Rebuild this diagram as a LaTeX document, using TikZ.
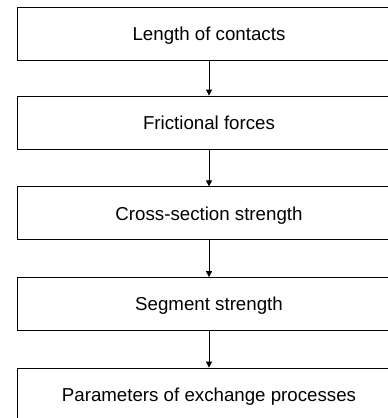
\documentclass[tikz,border=0pt]{standalone}
\usepackage{xcolor}
\usepackage{fontspec}
\setmainfont{Liberation Sans}
\usetikzlibrary{arrows.meta}

\begin{document}
\begin{tikzpicture}[x=1pt,y=-1pt,
        stage/.style={draw,line width=0.8pt,minimum width=384pt,minimum height=53pt,inner sep=0pt,
            text height=13.4pt,text depth=0pt,font=\fontsize{18.7}{22}\selectfont},
        flow/.style={line width=0.8pt,-{Triangle[length=6pt,width=6pt]}}]
        \useasboundingbox (0,0) rectangle (388,418);
        \clip (0,0) rectangle (388,418);
        \node[stage] (contacts) at (209,33.5) {Length of contacts};
        \node[stage] (friction) at (209,122.5) {Frictional forces};
        \node[stage] (section) at (209,213.3) {Cross-section strength};
        \node[stage] (segment) at (209,304) {Segment strength};
        \node[stage] (exchange) at (209,394.5) {Parameters of exchange processes};

        \draw[flow] (contacts) -- (friction);
        \draw[flow] (friction) -- (section);
        \draw[flow] (section) -- (segment);
        \draw[flow] (segment) -- (exchange);
        \end{tikzpicture}
\end{document}
